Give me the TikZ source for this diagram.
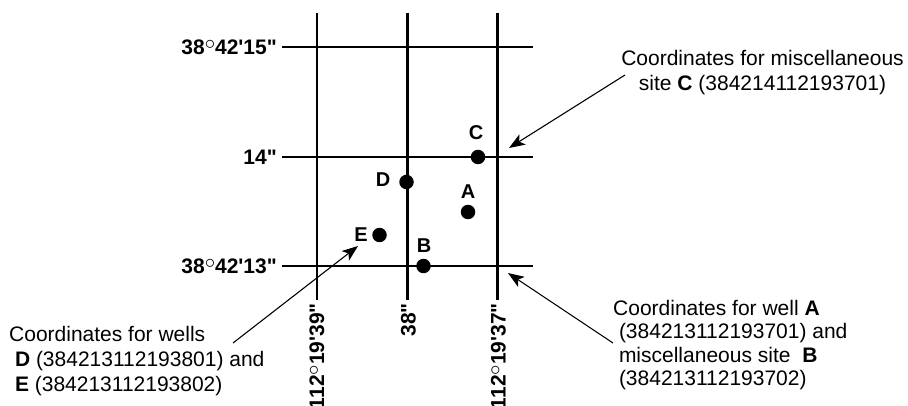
\documentclass[tikz,border=0pt]{standalone}
\usepackage{fontspec}
\setmainfont{Liberation Sans}
\usetikzlibrary{arrows.meta}
\newcommand\degsym{\raisebox{0.24em}{$\circ$}}
\newcommand\minq{\textquotesingle}
\newcommand\secq{\textquotedbl}
\begin{document}
\begin{tikzpicture}[x=1pt,y=-1pt,
  gridline/.style={line width=2.4pt, line cap=butt},
  dot/.style={circle, fill=black, inner sep=0pt, minimum size=14.5pt},
  letter/.style={font=\fontsize{20}{24}\selectfont\bfseries, inner sep=0pt},
  glab/.style={font=\fontsize{21}{25}\selectfont\bfseries, inner sep=0pt},
  note/.style={font=\fontsize{21}{25}\selectfont, inner sep=0pt},
  pointer/.style={line width=1.1pt, -{Stealth[length=16pt,width=12pt,inset=4pt]}}]
\useasboundingbox (0,0) rectangle (908,406);
% grid
\coordinate (v1t) at (317,13);  \coordinate (v1b) at (317,300);
\coordinate (v2t) at (407.5,13);\coordinate (v2b) at (407.5,300);
\coordinate (v3t) at (497.5,13);\coordinate (v3b) at (497.5,300);
\coordinate (h1w) at (282,47);  \coordinate (h1e) at (533,47);
\coordinate (h2w) at (282,157); \coordinate (h2e) at (533,157);
\coordinate (h3w) at (282,266); \coordinate (h3e) at (533,266);
\draw[gridline] (v1t) -- (v1b);
\draw[gridline] (v2t) -- (v2b);
\draw[gridline] (v3t) -- (v3b);
\draw[gridline] (h1w) -- (h1e);
\draw[gridline] (h2w) -- (h2e);
\draw[gridline] (h3w) -- (h3e);
% grid labels
\node[glab, anchor=east] (g1) at (277,47) {38\degsym42\minq15\secq};
\node[glab, anchor=east] (g2) at (277,157) {14\secq};
\node[glab, anchor=east] (g3) at (277,266) {38\degsym42\minq13\secq};
\node[glab, anchor=east, rotate=90] (g4) at (317,303) {112\degsym19\minq39\secq};
\node[glab, anchor=east, rotate=90] (g5) at (408.5,303) {38\secq};
\node[glab, anchor=east, rotate=90] (g6) at (498.5,303) {112\degsym19\minq37\secq};
% sites
\node[dot] (dA) at (468,212) {};
\node[dot] (dB) at (423.5,266) {};
\node[dot] (dC) at (478,157) {};
\node[dot] (dD) at (406.5,182) {};
\node[dot] (dE) at (379.5,235) {};
\node[letter] (lA) at (468,192) {A};
\node[letter] (lB) at (424,246) {B};
\node[letter] (lC) at (476,133) {C};
\node[letter] (lD) at (383,180) {D};
\node[letter] (lE) at (361,235) {E};
% notes
\node[note, align=center, anchor=north] (nC) at (762.5,50.5)
  {Coordinates for miscellaneous\\site \textbf{C} (384214112193701)};
\node[note, align=left, anchor=north west, font=\fontsize{21}{23.5}\selectfont] (nAB) at (613,300)
  {Coordinates for well \textbf{A}\\\hspace*{5.8pt}(384213112193701) and\\\hspace*{5.8pt}miscellaneous site \ \textbf{B}\\\hspace*{5.8pt}(384213112193702)};
\node[note, align=left, anchor=north west] (nDE) at (9,326.5)
  {Coordinates for wells\\\hspace*{5.8pt}\textbf{D} (384213112193801) and\\\hspace*{5.8pt}\textbf{E} (384213112193802)};
% pointers
\coordinate (sC) at (625,75);   \coordinate (tC) at (509,148);
\coordinate (sAB) at (613,343); \coordinate (tAB) at (508,273);
\coordinate (sDE) at (233,343); \coordinate (tDE) at (358,246);
\draw[pointer] (sC) -- (tC);
\draw[pointer] (sAB) -- (tAB);
\draw[pointer] (sDE) -- (tDE);
\end{tikzpicture}
\end{document}
